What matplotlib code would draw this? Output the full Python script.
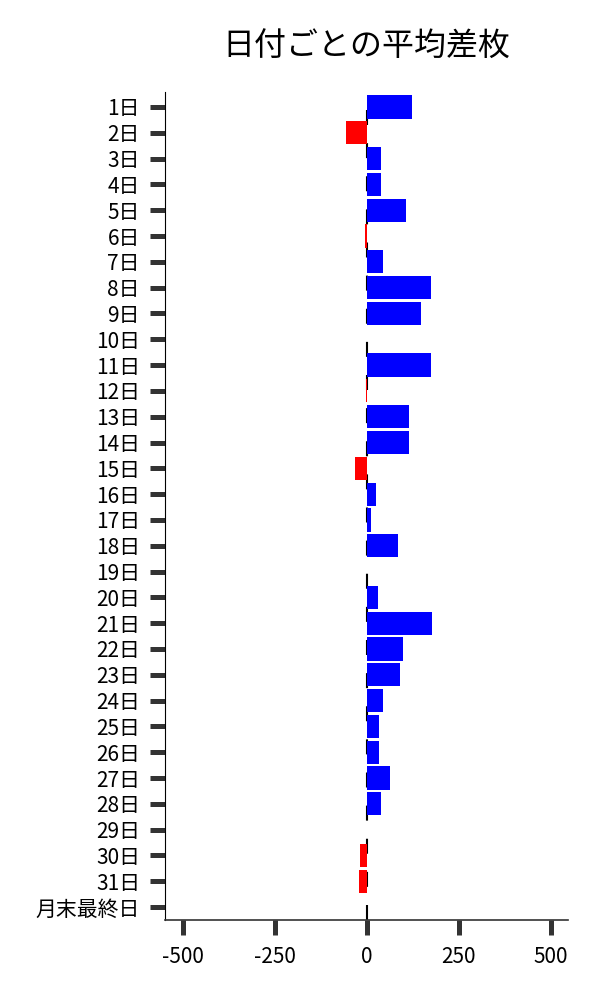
import matplotlib
matplotlib.use("Agg")
import matplotlib.pyplot as plt

plt.rcParams['font.family'] = ['Noto Sans CJK JP', 'DejaVu Sans']

days = [f"{i}日" for i in range(1, 32)] + ["月末最終日"]
diff = [124, -56, 40, 38, 108, -4, 45, 176, 149, 2,
        176, -2, 116, 116, -32, 26, 13, 84, 0, 32,
        178, 99, 91, 45, 34, 34, 64, 40, 0, -19,
        -22, 2]
colors = ['blue' if v >= 0 else 'red' for v in diff]

fig = plt.figure(figsize=(6, 10), dpi=100)
ax = fig.add_axes([0.275, 0.08, 0.672, 0.828])

ypos = list(range(len(days)))
ax.barh(ypos, diff, height=0.9, color=colors, zorder=2)
ax.axvline(0, color='black', lw=1.5, linestyle=(0, (7.2, 8.7)), zorder=1)

ax.set_yticks(ypos)
ax.set_yticklabels(days, fontsize=15)
ax.set_ylim(len(days) - 0.5, -0.58)
ax.set_xlim(-548, 548)
ax.set_xticks([-500, -250, 0, 250, 500])
ax.set_xticklabels(['-500', '-250', '0', '250', '500'], fontsize=15)

ax.tick_params(axis='both', length=11, width=3.6, color='#333333')
ax.tick_params(axis='y', pad=7)
ax.tick_params(axis='x', pad=8)

ax.spines['top'].set_visible(False)
ax.spines['right'].set_visible(False)
ax.spines['left'].set_color('black')
ax.spines['bottom'].set_color('#333333')
ax.spines['bottom'].set_linewidth(1.2)

ax.set_title("日付ごとの平均差枚", fontsize=23, pad=26)

fig.savefig("out.png", dpi=100)
